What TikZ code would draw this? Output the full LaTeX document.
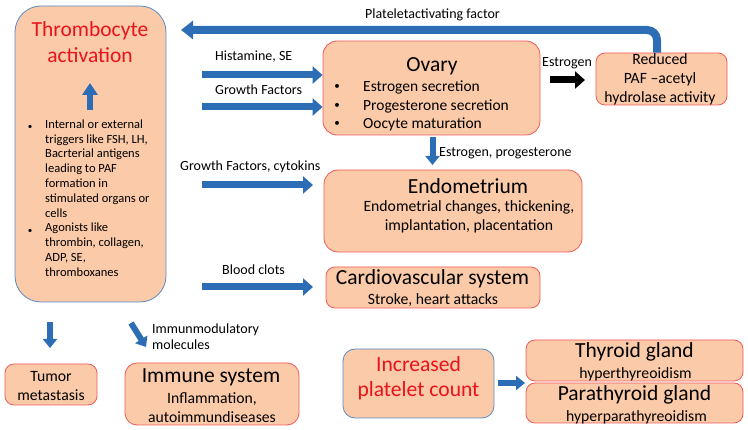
\documentclass[tikz,border=0pt]{standalone}
\usepackage{fontspec}
\setmainfont{Carlito}
\usetikzlibrary{arrows.meta,calc}
\definecolor{peach}{HTML}{FBCAA8}
\definecolor{redb}{HTML}{F05A5A}
\definecolor{blueb}{HTML}{5B8BC6}
\definecolor{arrowblue}{HTML}{2C6DB5}
\definecolor{titlered}{HTML}{E8131B}
\newcommand{\fs}[2]{\fontsize{#1}{#2}\selectfont}
\tikzset{
  box/.style={draw=redb, fill=peach, rounded corners=9pt, line width=0.8pt, inner sep=0pt},
  bbox/.style={draw=blueb, fill=peach, rounded corners=12pt, line width=0.8pt, inner sep=0pt},
  barrow/.style={draw=arrowblue, line width=7pt, -{Triangle[length=10pt,width=17pt]}},
  karrow/.style={draw=black, line width=7pt, -{Triangle[length=10pt,width=17pt]}},
  lbl/.style={inner sep=0pt, font=\fs{14}{16}},
  ttl/.style={inner sep=0pt, font=\fs{21.5}{24}},
  sub/.style={inner sep=0pt, font=\fs{15.7}{19}, align=center},
  bul/.style={inner sep=0pt, font=\fs{11}{12}},
}
\begin{document}
\begin{tikzpicture}[x=1pt,y=-1pt]
\useasboundingbox (0,0) rectangle (748,430);

% Thrombocyte activation box
\node[bbox, rounded corners=26pt, minimum width=151pt, minimum height=296pt] (thr) at (90.5,154) {};
\node[inner sep=0pt, text=titlered, font=\fs{21.5}{26}, align=center] (thrt) at (90,42) {Thrombocyte\\activation};
\coordinate (upb) at (90,110);
\coordinate (upt) at (90,83);
\draw[barrow, line width=6pt, -{Triangle[length=12pt,width=15pt]}] (upb) -- (upt);
\node[inner sep=0pt, anchor=north west, align=left, font=\fs{12.5}{14.8}] (thrl) at (45,119.5)
  {Internal or external\\triggers like FSH, LH,\\Bacrterial antigens\\leading to PAF\\formation in\\stimulated organs or\\cells\\Agonists like\\thrombin, collagen,\\ADP, SE,\\thromboxanes};
\node[bul, font=\fs{9}{10}] (b1) at (30,127) {•};
\node[bul, font=\fs{9}{10}] (b2) at (30,231) {•};

% Ovary
\node[box, rounded corners=14pt, minimum width=217pt, minimum height=94pt] (ovary) at (431.5,88) {};
\node[ttl] (ovt) at (432,66) {Ovary};
\node[inner sep=0pt, anchor=west, font=\fs{15.5}{18}] (o1) at (363,87) {Estrogen secretion};
\node[inner sep=0pt, anchor=west, font=\fs{15.5}{18}] (o2) at (363,106) {Progesterone secretion};
\node[inner sep=0pt, anchor=west, font=\fs{15.5}{18}] (o3) at (363,124) {Oocyte maturation};
\foreach \y in {87,106,124} \node[bul] at (337,\y) {•};

% Reduced PAF
\node[box, minimum width=131pt, minimum height=52pt] (red) at (661.5,79) {};
\node[sub] (redt) at (660,79.5) {Reduced\\PAF –acetyl\\hydrolase activity};

% Endometrium
\node[box, rounded corners=14pt, minimum width=258pt, minimum height=82pt] (endo) at (453,211) {};
\node[ttl] (endt) at (468,186) {Endometrium};
\node[sub] (ends) at (469,216.5) {Endometrial changes, thickening,\\implantation, placentation};

% Cardiovascular
\node[box, minimum width=214pt, minimum height=41pt] (cardio) at (433,287.5) {};
\node[ttl] (cart) at (432.5,279) {Cardiovascular system};
\node[sub] (cars) at (433,300) {Stroke, heart attacks};

% Tumor
\node[box, minimum width=92pt, minimum height=41pt] (tumor) at (51,384.5) {};
\node[sub] (tumt) at (51,386) {Tumor\\metastasis};

% Immune
\node[box, rounded corners=12pt, minimum width=174pt, minimum height=62pt] (immune) at (212,394) {};
\node[ttl] (immt) at (211,377) {Immune system};
\node[sub] (imms) at (212,408) {Inflammation,\\autoimmundiseases};

% Increased platelet count
\node[bbox, minimum width=151pt, minimum height=69pt] (incr) at (418.5,383.5) {};
\node[inner sep=0pt, text=titlered, align=center, font=\fs{21.6}{25}] (incrt) at (418.5,378) {Increased\\platelet count};

% Thyroid
\node[box, minimum width=217pt, minimum height=41pt] (thy) at (634.5,360.5) {};
\node[ttl] (thyt) at (634.5,352) {Thyroid gland};
\node[sub] (thys) at (635.5,374) {hyperthyreoidism};
\node[box, minimum width=217pt, minimum height=40pt] (para) at (634.5,403) {};
\node[ttl] (parat) at (634.5,395) {Parathyroid gland};
\node[sub] (paras) at (636.5,417) {hyperparathyreoidism};

% Arrows
\coordinate (pafup) at (657,30);
\coordinate (paftip) at (181,30);
\draw[barrow, line width=8pt, -{Triangle[length=12pt,width=18pt]}, rounded corners=10pt] (red.north -| pafup) -- (pafup) -- (paftip);
\node[lbl, anchor=west] (pafl) at (365,15) {Plateletactivating factor};

\coordinate (hs) at (202,75);
\draw[barrow] (hs) -- (hs -| ovary.west) ;
\node[lbl, anchor=west] (hsl) at (215,57) {Histamine, SE};
\coordinate (gf) at (202,107);
\draw[barrow] (gf) -- (gf -| ovary.west);
\node[lbl, anchor=west] (gfl) at (215,90) {Growth Factors};

\coordinate (es) at (550,80);
\draw[karrow] (es) -- (585,80);
\node[lbl, anchor=west] (esl) at (542,63) {Estrogen};

\draw[barrow, line width=6pt, -{Triangle[length=9pt,width=14pt]}] (432.5,137) -- (432.5,165);
\node[lbl, anchor=west] (epl) at (439,153) {Estrogen, progesterone};

\coordinate (gc) at (202,185);
\draw[barrow] (gc) -- (313,185);
\node[lbl, anchor=west] (gcl) at (180,167) {Growth Factors, cytokins};

\coordinate (bc) at (202,287);
\draw[barrow] (bc) -- (313,287);
\node[lbl, anchor=west] (bcl) at (222,270) {Blood clots};

\draw[barrow, line width=6pt, -{Triangle[length=9pt,width=14pt]}] (50,322) -- (50,348);
\draw[barrow, line width=6pt, -{Triangle[length=9pt,width=14pt]}] (131,323) -- (146,347);
\node[lbl, anchor=west, align=left, font=\fs{14}{16}] (iml) at (152,337) {Immunmodulatory\\molecules};

\draw[barrow, line width=6pt, -{Triangle[length=9pt,width=14pt]}] (498,383) -- (525,383);
\end{tikzpicture}
\end{document}
